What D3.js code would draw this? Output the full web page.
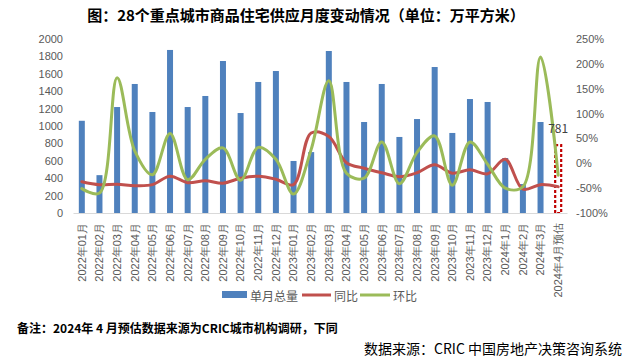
<!DOCTYPE html>
<html><head><meta charset="utf-8">
<script src="https://cdn.jsdelivr.net/npm/d3@7/dist/d3.min.js"></script>
<style>
body{margin:0;background:#fff;}
svg{font-family:"Noto Sans CJK SC","Noto Sans",sans-serif;}
</style></head>
<body><svg id="c" width="635" height="357"></svg>
<script>
const categories = ["2022年01月","2022年02月","2022年03月","2022年04月","2022年05月","2022年06月","2022年07月","2022年08月","2022年09月","2022年10月","2022年11月","2022年12月",
"2023年01月","2023年02月","2023年03月","2023年04月","2023年05月","2023年06月","2023年07月","2023年08月","2023年09月","2023年10月","2023年11月","2023年12月",
"2024年1月","2024年2月","2024年3月","2024年4月预估"];
const monthlyTotal = [1060,435,1218,1483,1161,1874,1218,1345,1747,1149,1506,1632,
598,700,1862,1506,1046,1483,874,1080,1678,920,1310,1276,
632,333,1046,781];
const yoy = [-37,-43,-42,-45,-43,-26,-39,-35,-40,-30,-26,-32,
-43,61,54,1,-10,-19,-27,-19,-3,-20,-13,-21,
8,-52,-43,-47];
const mom = [-51,-60,172,25,-23,60,-33,8,31,-34,32,8,
-62,28,166,-20,-30,43,-41,22,55,-44,43,-2,
-50,-47,214,-24];
const leftTicks = [0,200,400,600,800,1000,1200,1400,1600,1800,2000];
const rightTicks = [-100,-50,0,50,100,150,200,250];
const estimateIndex = 27;

const svg = d3.select("#c");
const L = 73, R = 567, T = 39, B = 213;
const x = d3.scaleBand().domain(categories).range([L, R]).padding(0);
const yL = d3.scaleLinear().domain([0, 2000]).range([B, T]);
const yR = d3.scaleLinear().domain([-100, 250]).range([B, T]);
const cx = c => x(c) + x.bandwidth() / 2;
const barW = 6;

// title
svg.append("text").attr("x", 306).attr("y", 14).attr("text-anchor", "middle")
  .attr("dominant-baseline", "central").attr("font-size", 15).attr("font-weight", "bold")
  .attr("fill", "#000").text("图：28个重点城市商品住宅供应月度变动情况（单位：万平方米）");

// left axis
const ga = svg.append("g").attr("transform", `translate(${L},0)`)
  .call(d3.axisLeft(yL).tickValues(leftTicks).tickSize(0).tickPadding(10).tickFormat(d3.format("d")));
ga.select(".domain").remove();
ga.selectAll("text").attr("font-size", 11).attr("fill", "#595959").attr("font-family", "inherit");

// right axis
const gr = svg.append("g").attr("transform", `translate(${R},0)`)
  .call(d3.axisRight(yR).tickValues(rightTicks).tickSize(0).tickPadding(9).tickFormat(d => d + "%"));
gr.select(".domain").remove();
gr.selectAll("text").attr("font-size", 11).attr("fill", "#595959").attr("font-family", "inherit");

// bars
svg.append("g").selectAll("rect").data(monthlyTotal).join("rect")
  .attr("x", (d, i) => cx(categories[i]) - barW / 2)
  .attr("y", d => yL(d))
  .attr("width", barW)
  .attr("height", d => B - yL(d))
  .attr("fill", (d, i) => i === estimateIndex ? "#fff" : "#4F81BD")
  .attr("stroke", (d, i) => i === estimateIndex ? "#C00000" : "none")
  .attr("stroke-width", 2.2)
  .attr("stroke-dasharray", (d, i) => i === estimateIndex ? "3,2" : null);

// x axis
const gx = svg.append("g").attr("transform", `translate(0,${B})`)
  .call(d3.axisBottom(x).tickSize(0));
gx.select(".domain").attr("stroke", "#D9D9D9").attr("stroke-width", 1);
gx.selectAll("text").attr("font-size", 11).attr("fill", "#595959").attr("font-family", "inherit")
  .attr("transform", "rotate(-90)").attr("text-anchor", "end")
  .attr("x", -10).attr("y", 0).attr("dy", "0.35em");

// lines
const line = d3.line().x((d, i) => cx(categories[i])).y(d => yR(d)).curve(d3.curveCatmullRom.alpha(0.5));
svg.append("path").datum(yoy).attr("d", line).attr("fill", "none")
  .attr("stroke", "#C0504D").attr("stroke-width", 3).attr("stroke-linejoin", "round").attr("stroke-linecap", "round");
svg.append("path").datum(mom).attr("d", line).attr("fill", "none")
  .attr("stroke", "#9BBB59").attr("stroke-width", 3).attr("stroke-linejoin", "round").attr("stroke-linecap", "round");

// data label
svg.append("text").attr("x", cx(categories[estimateIndex])).attr("y", yL(monthlyTotal[estimateIndex]) - 12)
  .attr("text-anchor", "middle").attr("font-size", 12).attr("fill", "#404040")
  .text(monthlyTotal[estimateIndex]);

// legend
const lg = svg.append("g").attr("font-size", 12).attr("fill", "#595959");
lg.append("rect").attr("x", 222).attr("y", 291).attr("width", 25).attr("height", 7).attr("fill", "#4F81BD");
lg.append("text").attr("x", 250).attr("y", 295).attr("dominant-baseline", "central").attr("fill", "#595959").text("单月总量");
lg.append("line").attr("x1", 302).attr("x2", 331).attr("y1", 295).attr("y2", 295).attr("stroke", "#C0504D").attr("stroke-width", 3);
lg.append("text").attr("x", 334).attr("y", 295).attr("dominant-baseline", "central").attr("fill", "#595959").text("同比");
lg.append("line").attr("x1", 360).attr("x2", 390).attr("y1", 295).attr("y2", 295).attr("stroke", "#9BBB59").attr("stroke-width", 3);
lg.append("text").attr("x", 393).attr("y", 295).attr("dominant-baseline", "central").attr("fill", "#595959").text("环比");

// footnotes
svg.append("text").attr("x", 17).attr("y", 327).attr("dominant-baseline", "central")
  .attr("font-size", 12).attr("font-weight", "bold").attr("fill", "#000")
  .text("备注：2024年 4 月预估数据来源为CRIC城市机构调研，下同");
svg.append("text").attr("x", 622).attr("y", 348).attr("text-anchor", "end").attr("dominant-baseline", "central")
  .attr("font-size", 14).attr("fill", "#000")
  .text("数据来源：CRIC 中国房地产决策咨询系统");
</script></body></html>
